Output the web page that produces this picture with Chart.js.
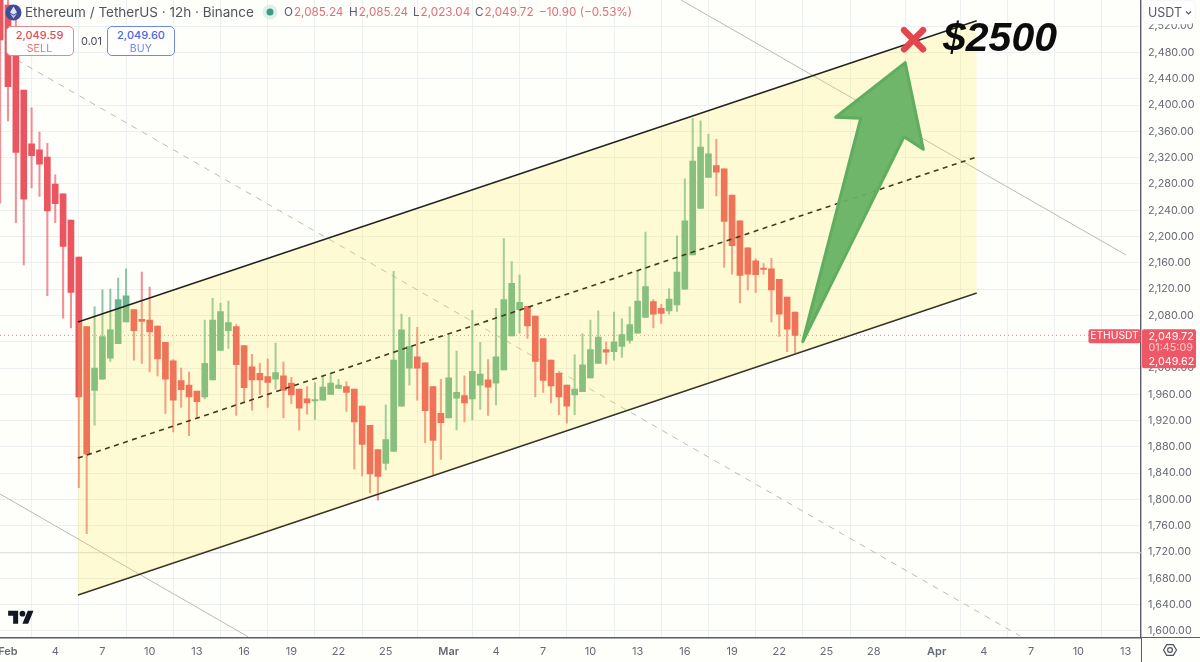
<!DOCTYPE html>
<html>
<head>
<meta charset="utf-8">
<title>ETHUSDT 12h</title>
<script src="https://cdn.jsdelivr.net/npm/chart.js@4"></script>
<style>
html, body { margin: 0; padding: 0; background: #fefefb; }
body { width: 1200px; height: 662px; position: relative; overflow: hidden; font-family: Inter, "Noto Sans", sans-serif; }
canvas { position: absolute; left: 0; top: 0; }
.abs { position: absolute; white-space: nowrap; }
.red { color: #e0707a; }
.ohlc { top: 3px; font-size: 11.7px; line-height: 18px; color: #5a5e69; }
.ohlc span { margin-left: 1px; }
.box { box-sizing: border-box; width: 68px; height: 30px; top: 25.5px; background: #fff; border-radius: 5px; text-align: center; font-size: 11px; line-height: 13px; padding-top: 2px; }
.box small { display: block; font-size: 10.5px; font-weight: 400; opacity: .8; letter-spacing: .2px; }
</style>
</head>
<body>
<canvas id="chart" width="1200" height="662"></canvas>

<svg class="abs" style="left:5px;top:4px" width="17" height="17" viewBox="0 0 17 17">
  <circle cx="8.5" cy="8.5" r="8" fill="#3f4c96"/>
  <path d="M8.5 2.5 12 8.6 8.5 10.6 5 8.6z" fill="#dfe4f7"/>
  <path d="M8.5 11.4 12 9.4 8.5 14.5 5 9.4z" fill="#b9c3ee"/>
</svg>
<div class="abs" style="left:25px;top:3px;font-size:13.5px;line-height:18px;color:#50545f">Ethereum / TetherUS · 12h · Binance</div>
<svg class="abs" style="left:262px;top:4px" width="16" height="16"><circle cx="8" cy="8" r="7.5" fill="#dff0ea"/><circle cx="8" cy="8" r="3.5" fill="#3f9a82"/></svg>
<div class="abs ohlc" style="left:284px">O<span class="red">2,085.24</span></div>
<div class="abs ohlc" style="left:349px">H<span class="red">2,085.24</span></div>
<div class="abs ohlc" style="left:413px">L<span class="red">2,023.04</span></div>
<div class="abs ohlc" style="left:475px">C<span class="red">2,049.72</span></div>
<div class="abs ohlc red" style="left:539px;color:#e0707a">−10.90 (−0.53%)</div>

<div class="abs box" style="left:5.5px;border:1.3px solid #e08a90;color:#dd4f5a;font-weight:500">2,049.59<small>SELL</small></div>
<div class="abs" style="left:81px;top:34px;font-size:11px;color:#4a4e58">0.01</div>
<div class="abs box" style="left:107px;border:1.3px solid #7089e0;color:#4a66d8;font-weight:500">2,049.60<small>BUY</small></div>

<div class="abs" style="left:1144px;top:1px;width:51px;height:23px;background:#fff;border-radius:5px;box-shadow:0 0 2px #e6e6e6;font-size:12.5px;line-height:23px;color:#555964;text-indent:4px">USDT<svg class="abs" style="left:41px;top:9px" width="7" height="6"><path d="M1 1.5 3.5 4 6 1.5" fill="none" stroke="#555964" stroke-width="1.2"/></svg></div>

<div class="abs" style="left:943px;top:14px;font-family:'Liberation Sans',Arial,sans-serif;font-size:41px;line-height:46px;font-weight:700;font-style:italic;color:#0c0c0c">$2500</div>

<svg class="abs" style="left:8px;top:608px" width="26" height="20" viewBox="0 0 36 28"><path d="M14 22H7V11H0V4h14v18zM28 22h-8l7.5-18h8L28 22z" fill="#131722"/><circle cx="20" cy="8" r="4" fill="#131722"/></svg>

<div class="abs" style="left:1140.8px;top:637px;width:1.4px;height:25px;background:#5a5d68"></div>
<div class="abs" style="left:1141px;top:637px;width:59px;height:1.4px;background:#5a5d68"></div>
<svg class="abs" style="left:1160px;top:640px" width="20" height="20" viewBox="0 0 20 20"><path d="M3.500 10 6.700 4.600H13.300L16.500 10 13.300 15.400H6.700z" fill="none" stroke="#50535e" stroke-width="1.2" stroke-linejoin="round"/><circle cx="10" cy="10" r="2.4" fill="none" stroke="#50535e" stroke-width="1.2"/></svg>

<script>
// 12h candles, one every half day, first one is half a day before 1 Feb
let firstBarDay = -0.5;
let barStep = 0.5;

let opens = [2600, 2552, 2484, 2423, 2341, 2332, 2321, 2280, 2265, 2225, 2169, 2063,
    1966, 1983, 2015, 2037, 2070, 2089, 2074, 2073, 2064, 2039, 2011, 1981, 1974, 1965,
    1956, 1982, 2027, 2057, 2063, 2034, 2002, 1992, 1987, 1983, 1988, 1977, 1968, 1953,
    1950, 1951, 1960, 1969, 1972, 1968, 1942, 1913, 1876, 1855, 1873, 1942, 2000, 2017,
    2008, 1972, 1931, 1924, 1954, 1958, 1953, 1974, 1982, 1977, 1997, 2049, 2089, 2094,
    2079, 2045, 2012, 1992, 1974, 1959, 1964, 1985, 2007, 2028, 2025, 2033, 2042, 2053,
    2077, 2101, 2091, 2087, 2096, 2120, 2172, 2243, 2290, 2308, 2303, 2263, 2224, 2183,
    2163, 2152, 2151, 2135, 2108, 2085.24];
let highs = [2620, 2575, 2530, 2423, 2396, 2359, 2342, 2294, 2265, 2225, 2169, 2063,
    2093, 2119, 2120, 2137, 2151, 2089, 2146, 2123, 2064, 2039, 2013, 2000, 1994, 1965,
    2073, 2106, 2099, 2102, 2066, 2034, 2021, 2007, 2014, 2038, 2009, 1986, 1968, 1972,
    1978, 1987, 1992, 1983, 1979, 1968, 1942, 1913, 1876, 1944, 2147, 2082, 2077, 2062,
    2008, 1972, 1983, 2050, 2026, 1988, 2088, 2039, 2013, 2091, 2197, 2162, 2142, 2094,
    2079, 2045, 2012, 1994, 1974, 2020, 2052, 2073, 2087, 2040, 2085, 2075, 2093, 2148,
    2207, 2104, 2097, 2121, 2201, 2288, 2380, 2376, 2356, 2348, 2303, 2263, 2224, 2183,
    2166, 2159, 2167, 2135, 2108, 2085.24];
let lows = [2251, 2376, 2221, 2157, 2274, 2261, 2110, 2221, 2076, 2061, 1818, 1748,
    1913, 1983, 2010, 2037, 2070, 2012, 2007, 1994, 1988, 1931, 1903, 1940, 1897, 1924,
    1953, 1982, 2027, 2030, 1928, 1947, 1936, 1960, 1940, 1968, 1924, 1946, 1906, 1930,
    1922, 1951, 1960, 1969, 1934, 1846, 1836, 1810, 1799, 1845, 1873, 1942, 1974, 1951,
    1886, 1837, 1861, 1924, 1906, 1918, 1921, 1937, 1928, 1944, 1997, 2049, 2053, 2045,
    1956, 1963, 1947, 1929, 1916, 1929, 1964, 1985, 2007, 2006, 2012, 2016, 2038, 2053,
    2077, 2061, 2068, 2082, 2086, 2120, 2172, 2243, 2290, 2262, 2153, 2143, 2099, 2119,
    2115, 2143, 2070, 2048, 2025, 2023.04];
let closes = [2499, 2428, 2328, 2257, 2323, 2310, 2239, 2250, 2185, 2115, 1956, 1869,
    2000, 2048, 2058, 2104, 2110, 2057, 2071, 2055, 2014, 1983, 1951, 1967, 1956, 1949,
    2007, 2073, 2086, 2069, 2005, 1970, 1982, 1982, 1978, 1993, 1966, 1959, 1939, 1947,
    1952, 1971, 1977, 1974, 1963, 1918, 1884, 1839, 1835, 1891, 2012, 2058, 2033, 2000,
    1935, 1890, 1917, 1985, 1963, 1947, 1995, 1991, 1971, 2017, 2104, 2129, 2100, 2064,
    2010, 1981, 1973, 1956, 1942, 1968, 2005, 2028, 2047, 2024, 2040, 2051, 2066, 2102,
    2124, 2082, 2083, 2105, 2146, 2224, 2315, 2336, 2326, 2298, 2223, 2186, 2141, 2143,
    2142, 2150, 2119, 2082, 2059, 2049.72];

// axis ticks
let priceTicks = [1600, 1640, 1680, 1720, 1760, 1800, 1840, 1880, 1920, 1960, 2000, 2040, 2080, 2120,
    2160, 2200, 2240, 2280, 2320, 2360, 2400, 2440, 2480, 2520];
let tickDays = [0, 3, 6, 9, 12, 15, 18, 21, 24, 28, 31, 34, 37, 40, 43, 46, 49, 52, 55, 59, 62, 65, 68, 71];
let tickLabels = ['Feb', '4', '7', '10', '13', '16', '19', '22', '25', 'Mar', '4', '7', '10', '13', '16',
    '19', '22', '25', '28', 'Apr', '4', '7', '10', '13'];
let monthDays = [0, 28, 59];
let dayMin = -0.508, dayMax = 71.98;
let priceMin = 1589.8, priceMax = 2559.9;

// drawn channel, days then prices
let channelDays = [4.447, 61.54];
let channelTop = [2070.1, 2528.4];
let channelMid = [1863.2, 2321.1];
let channelBottom = [1654.8, 2114.2];

// thin parallel lines
let lowerGrayDays = [-0.508, 15.25];
let lowerGrayPrices = [1808.4, 1591.3];
let midGrayDays = [0.57, 64.3];
let midGrayPrices = [2468.6, 1592.4];
let upperGrayDays = [42.76, 71.03];
let upperGrayPrices = [2559.9, 2172];
let levelPrice = 1719;

// arrow and red cross
let arrowDays = [57.0, 58.15, 56.92, 50.49, 54.17, 52.58];
let arrowPrices = [2464.5, 2332.8, 2351.9, 2040.1, 2379.9, 2381.5];
let crossDays = [56.93, 58.13];
let crossTop = 2514, crossBottom = 2485;

let lastPrice = 2049.72;
let lastLabels = ['2,049.72', '01:45:09', '2,049.62'];

let barDays = opens.map((o, i) => firstBarDay + i * barStep);
let bodies = opens.map((o, i) => ({x: barDays[i], y: [o, closes[i]]}));
let wicks = opens.map((o, i) => ({x: barDays[i], y: [lows[i], highs[i]]}));

function isUp(i) {
    return closes[i] >= opens[i];
}

function points(xs, ys) {
    return xs.map((x, i) => ({x: x, y: ys[i]}));
}

function lineSet(data, color, width, dash, order) {
    return {
        type: 'line',
        data: data,
        borderColor: color,
        borderWidth: width,
        borderDash: dash,
        pointRadius: 0,
        fill: false,
        order: order
    };
}

// arrow polygon, goes through the scales like everything else
const arrowPlugin = {
    id: 'arrow',
    afterDatasetsDraw(chart) {
        let {ctx, scales} = chart;
        ctx.save();
        ctx.beginPath();
        arrowDays.forEach((d, i) => {
            let px = scales.x.getPixelForValue(d), py = scales.y.getPixelForValue(arrowPrices[i]);
            i == 0 ? ctx.moveTo(px, py) : ctx.lineTo(px, py);
        });
        ctx.closePath();
        ctx.fillStyle = 'rgba(104, 178, 100, 0.95)';
        ctx.strokeStyle = '#5fad5e';
        ctx.lineWidth = 3;
        ctx.lineJoin = 'round';
        ctx.fill();
        ctx.stroke();
        ctx.restore();
    }
};

// red price tags on the axis
const tagPlugin = {
    id: 'priceTags',
    afterDraw(chart) {
        let {ctx, scales} = chart;
        let y = scales.y.getPixelForValue(lastPrice);
        let color = '#ee5766';
        ctx.save();
        ctx.fillStyle = color;
        ctx.beginPath();
        ctx.roundRect(1088.5, y - 6, 52, 14, 2);
        ctx.fill();
        ctx.beginPath();
        ctx.roundRect(1142, y - 6, 54, 39, 2);
        ctx.fill();
        ctx.textBaseline = 'middle';
        ctx.font = '10.3px Inter';
        ctx.textAlign = 'center';
        ctx.fillStyle = '#fff';
        ctx.fillText('ETHUSDT', 1114.5, y + 1);
        ctx.font = '10.8px Inter';
        ctx.textAlign = 'left';
        ctx.fillText(lastLabels[0], 1148.5, y + 1);
        ctx.fillStyle = 'rgba(255, 255, 255, 0.7)';
        ctx.fillText(lastLabels[1], 1148.5, y + 12.5);
        ctx.fillStyle = '#fff';
        ctx.fillText(lastLabels[2], 1148.5, y + 26);
        ctx.restore();
    }
};

let datasets = [
    // 0 and 1: the channel, top one fills down to the bottom one, above the candles
    Object.assign(lineSet(points(channelDays, channelTop), '#222222', 1.5, [], 2), {
        fill: {target: 1},
        backgroundColor: 'rgba(255, 235, 59, 0.2)'
    }),
    lineSet(points(channelDays, channelBottom), '#222222', 1.5, [], 2),
    lineSet(points(channelDays, channelMid), '#111111', 1.6, [5, 4.5], 2),
    lineSet(points(lowerGrayDays, lowerGrayPrices), '#b9b9b6', 1, [], 7),
    lineSet(points(midGrayDays, midGrayPrices), '#bcbcb4', 1, [6, 6], 7),
    lineSet(points(upperGrayDays, upperGrayPrices), '#b9b9b6', 1, [], 7),
    lineSet(points([dayMin, dayMax], [levelPrice, levelPrice]), '#dcdcdc', 1, [], 7),
    lineSet(points([dayMin, dayMax], [lastPrice, lastPrice]), 'rgba(238, 87, 102, 0.75)', 1, [1, 3], 6),
    Object.assign(lineSet(points(crossDays, [crossTop, crossBottom]), '#e2474f', 6.5, [], 1), {borderCapStyle: 'round'}),
    Object.assign(lineSet(points(crossDays, [crossBottom, crossTop]), '#e2474f', 6.5, [], 1), {borderCapStyle: 'round'}),
    {
        data: bodies,
        barThickness: 6,
        grouped: false,
        order: 4,
        backgroundColor: ctx => isUp(ctx.dataIndex) ? '#6ab48f' : '#ea555f'
    },
    {
        data: wicks,
        barThickness: 1.4,
        grouped: false,
        order: 5,
        backgroundColor: ctx => isUp(ctx.dataIndex) ? 'rgba(106, 180, 143, 0.75)' : 'rgba(234, 85, 95, 0.65)'
    }
];

new Chart(document.getElementById('chart').getContext('2d'), {
    type: 'bar',
    data: {datasets: datasets},
    plugins: [arrowPlugin, tagPlugin],
    options: {
        responsive: false,
        animation: false,
        layout: {padding: 0},
        plugins: {legend: {display: false}, tooltip: {enabled: false}},
        scales: {
            x: {
                type: 'linear',
                offset: false,
                min: dayMin,
                max: dayMax,
                afterBuildTicks: axis => { axis.ticks = tickDays.map(d => ({value: d})); },
                afterFit: axis => { axis.height = 24.3; axis.paddingLeft = 0; axis.paddingRight = 0; },
                grid: {color: '#edf0f1', drawTicks: false},
                border: {color: '#5a5d68', width: 1.4},
                ticks: {
                    autoSkip: false,
                    maxRotation: 0,
                    padding: 7,
                    color: '#666a75',
                    font: ctx => ({family: 'Inter', size: 11, weight: ctx.tick && monthDays.includes(ctx.tick.value) ? '600' : '400'}),
                    callback: (v, i) => tickLabels[i]
                }
            },
            y: {
                position: 'right',
                min: priceMin,
                max: priceMax,
                afterBuildTicks: axis => { axis.ticks = priceTicks.map(p => ({value: p})); },
                afterFit: axis => { axis.width = 59; axis.paddingTop = 0; axis.paddingBottom = 0; },
                grid: {color: '#edf0f1', drawTicks: false},
                border: {color: '#5a5d68', width: 1.4},
                ticks: {
                    padding: 7,
                    color: '#666a75',
                    font: {family: 'Inter', size: 10.8},
                    callback: v => v.toLocaleString('en-US', {minimumFractionDigits: 2, maximumFractionDigits: 2})
                }
            }
        }
    }
});
</script>
</body>
</html>
